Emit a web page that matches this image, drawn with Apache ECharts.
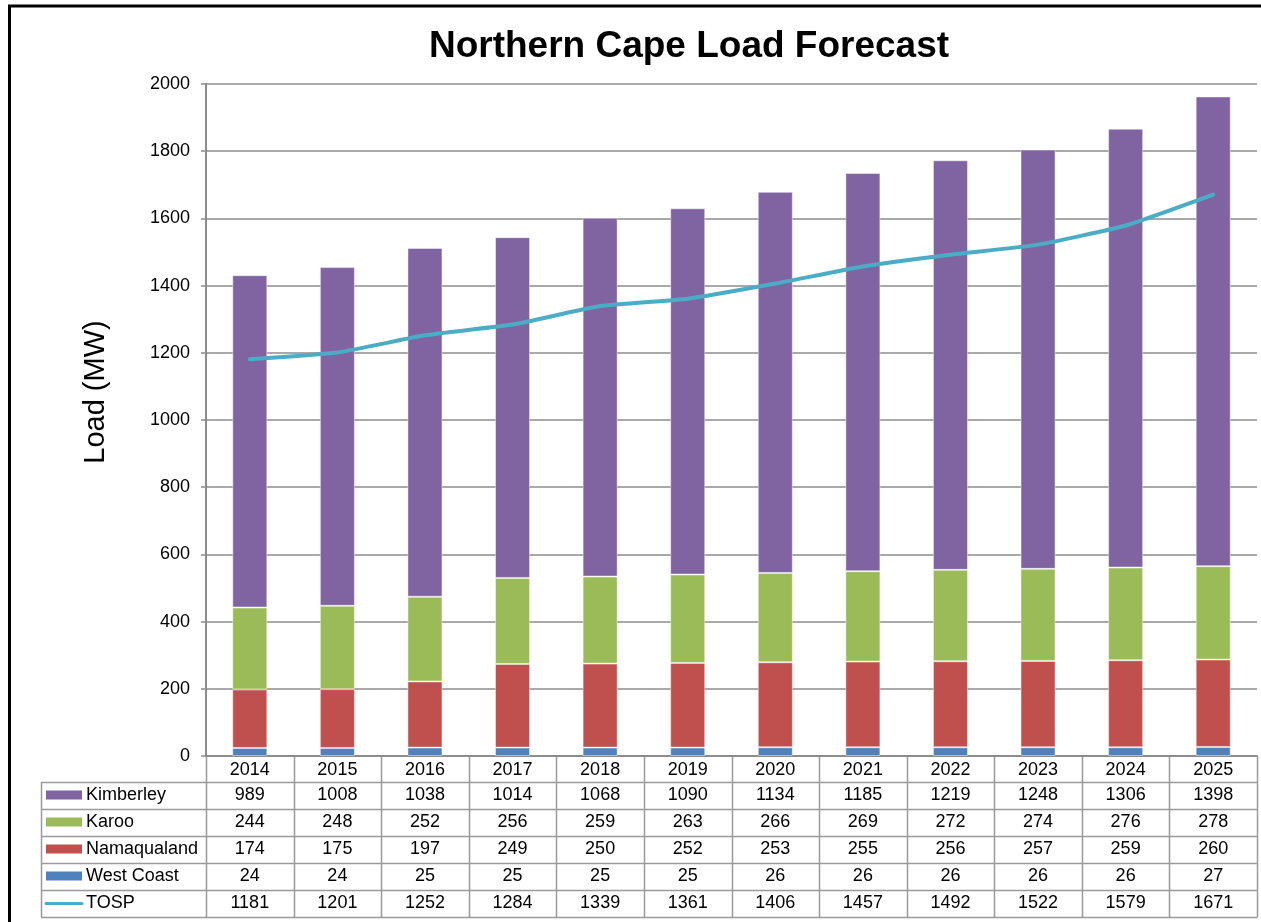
<!DOCTYPE html>
<html>
<head>
<meta charset="utf-8">
<script src="https://cdn.jsdelivr.net/npm/echarts@6/dist/echarts.min.js"></script>
<style>
html,body{margin:0;padding:0;background:#fff;}
#chart{width:1261px;height:922px;}
</style>
</head>
<body>
<div id="chart"></div>
<script>
const years = ['2014','2015','2016','2017','2018','2019','2020','2021','2022','2023','2024','2025'];
const kimberley = [989,1008,1038,1014,1068,1090,1134,1185,1219,1248,1306,1398];
const karoo = [244,248,252,256,259,263,266,269,272,274,276,278];
const namaqualand = [174,175,197,249,250,252,253,255,256,257,259,260];
const westCoast = [24,24,25,25,25,25,26,26,26,26,26,27];
const tosp = [1181,1201,1252,1284,1339,1361,1406,1457,1492,1522,1579,1671];
const yTicks = [0,200,400,600,800,1000,1200,1400,1600,1800,2000];

const FONT = '"Liberation Sans", Arial, Helvetica, sans-serif';
const colors = {
  'Kimberley': '#8064A2',
  'Karoo': '#9BBB59',
  'Namaqualand': '#C0504D',
  'West Coast': '#4F81BD',
  'TOSP': '#4BACC6'
};
const tableRows = [
  {name:'Kimberley', data:kimberley, type:'bar'},
  {name:'Karoo', data:karoo, type:'bar'},
  {name:'Namaqualand', data:namaqualand, type:'bar'},
  {name:'West Coast', data:westCoast, type:'bar'},
  {name:'TOSP', data:tosp, type:'line'}
];

const chart = echarts.init(document.getElementById('chart'), null, {renderer:'canvas'});

function barSeries(name, data) {
  return {
    name: name, type: 'bar', stack: 'load', data: data,
    barWidth: '40%',
    itemStyle: {color: colors[name], borderColor: 'rgba(255,255,255,0.45)', borderWidth: 1},
    emphasis: {disabled: true}
  };
}

const option = {
  animation: false,
  backgroundColor: '#fff',
  title: {
    text: 'Northern Cape Load Forecast',
    left: 684, top: 23, textAlign: 'center',
    textStyle: {fontFamily: FONT, fontSize: 37, fontWeight: 'bold', color: '#000'}
  },
  grid: {left: 206, right: 4, top: 84, bottom: 166, containLabel: false},
  xAxis: {
    type: 'category', data: years,
    axisLine: {show: true, lineStyle: {color: '#8c8c8c', width: 2}},
    axisTick: {show: false},
    axisLabel: {fontFamily: FONT, fontSize: 18, color: '#000', margin: 5}
  },
  yAxis: {
    type: 'value', min: yTicks[0], max: yTicks[yTicks.length-1], interval: 200,
    axisLine: {show: true, lineStyle: {color: '#8c8c8c', width: 2}},
    axisTick: {show: true, inside: false, length: 5, lineStyle: {color: '#8c8c8c', width: 1.5}},
    axisLabel: {fontFamily: FONT, fontSize: 18, color: '#000', margin: 16, formatter: v => String(v)},
    splitLine: {show: true, lineStyle: {color: '#8c8c8c', width: 1.5}}
  },
  series: [
    barSeries('West Coast', westCoast),
    barSeries('Namaqualand', namaqualand),
    barSeries('Karoo', karoo),
    barSeries('Kimberley', kimberley),
    {
      name: 'TOSP', type: 'line', data: tosp, symbol: 'none', smooth: 0.15,
      lineStyle: {color: colors['TOSP'], width: 4, cap: 'round', join: 'round'},
      z: 5, emphasis: {disabled: true}
    }
  ]
};
chart.setOption(option);

function buildTable() {
  const p0 = chart.convertToPixel({gridIndex: 0}, [0, 0]);
  const p1 = chart.convertToPixel({gridIndex: 0}, [1, 0]);
  const colW = p1[0] - p0[0];
  const axisY = p0[1];
  const gridLeft = p0[0] - colW / 2;
  const gridRight = gridLeft + colW * years.length;
  const headerH = 26, rowH = 27;
  const tableLeft = 41;
  const lineColor = '#9a9a9a';
  const els = [];
  const crisp = v => Math.round(v) + 0.5;
  const tableBottom = axisY + headerH + rowH * tableRows.length;
  for (let r = 0; r <= tableRows.length; r++) {
    const y = crisp(axisY + headerH + r * rowH);
    els.push({type:'line', shape:{x1: tableLeft, y1: y, x2: crisp(gridRight), y2: y}, style:{stroke: lineColor, lineWidth: 1.5}, silent:true});
  }
  els.push({type:'line', shape:{x1: crisp(tableLeft), y1: axisY + headerH, x2: crisp(tableLeft), y2: tableBottom}, style:{stroke: lineColor, lineWidth: 1.5}, silent:true});
  for (let c = 0; c <= years.length; c++) {
    const x = crisp(gridLeft + c * colW);
    els.push({type:'line', shape:{x1: x, y1: axisY, x2: x, y2: tableBottom}, style:{stroke: lineColor, lineWidth: 1.5}, silent:true});
  }
  tableRows.forEach((row, r) => {
    const cy = axisY + headerH + r * rowH + rowH / 2;
    if (row.type === 'bar') {
      els.push({type:'rect', shape:{x: 46, y: cy - 5, width: 36, height: 9}, style:{fill: colors[row.name]}, silent:true});
    } else {
      els.push({type:'line', shape:{x1: 46, y1: cy, x2: 82, y2: cy}, style:{stroke: colors[row.name], lineWidth: 3, lineCap: 'round'}, silent:true});
    }
    els.push({type:'text', x: 86, y: cy, style:{text: row.name, fontFamily: FONT, fontSize: 18, fill: '#000', textAlign: 'left', textVerticalAlign: 'middle'}, silent:true});
    row.data.forEach((v, c) => {
      const px = chart.convertToPixel({gridIndex: 0}, [c, 0])[0];
      els.push({type:'text', x: px, y: cy, style:{text: String(v), fontFamily: FONT, fontSize: 18, fill: '#000', textAlign: 'center', textVerticalAlign: 'middle'}, silent:true});
    });
  });
  els.push({type:'text', x: 96, y: 392, rotation: Math.PI / 2, style:{text: 'Load (MW)', fontFamily: FONT, fontSize: 29, fill: '#000', textAlign: 'center', textVerticalAlign: 'middle'}, silent:true});
  els.push({type:'line', shape:{x1: 8, y1: 6, x2: 1261, y2: 6}, style:{stroke: '#000', lineWidth: 3}, silent:true});
  els.push({type:'line', shape:{x1: 9.5, y1: 5, x2: 9.5, y2: 922}, style:{stroke: '#000', lineWidth: 3}, silent:true});
  chart.setOption({graphic: {elements: els}});
}
buildTable();
</script>
</body>
</html>
